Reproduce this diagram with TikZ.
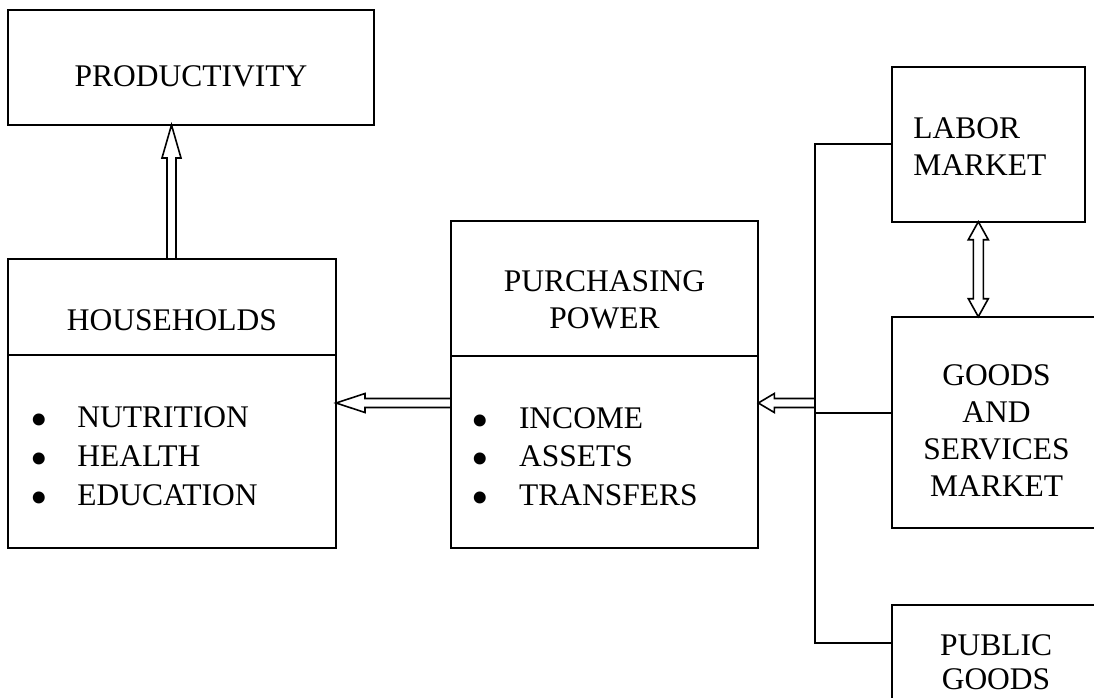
\documentclass[tikz,border=0pt]{standalone}
\usepackage{fontspec}
\setmainfont{Liberation Serif}
\usetikzlibrary{calc}
\newcommand\mybullet{\makebox[47.3pt][l]{\smash{\raisebox{-9pt}{\fontsize{50}{50}\selectfont •}}}}
\tikzset{
  box/.style={draw, line width=1.8pt, inner sep=0pt, outer sep=0pt, anchor=north west},
  txt/.style={inner sep=0pt, outer sep=0pt, font=\fontsize{31.5}{37.2}\selectfont},
  conn/.style={line width=1.8pt},
  hollow/.style n args={3}{line width=1.6pt, line join=miter, to path={
    ($(\tikztostart)!#2!90:(\tikztotarget)$)
    -- ($(\tikztotarget)!#1!(\tikztostart)!#2!90:(\tikztotarget)$)
    -- ($(\tikztotarget)!#1!(\tikztostart)!#3!90:(\tikztotarget)$)
    -- (\tikztotarget)
    -- ($(\tikztotarget)!#1!(\tikztostart)!#3!-90:(\tikztotarget)$)
    -- ($(\tikztotarget)!#1!(\tikztostart)!#2!-90:(\tikztotarget)$)
    -- ($(\tikztostart)!#2!-90:(\tikztotarget)$)
  }},
  hollowboth/.style n args={3}{line width=1.6pt, line join=miter, to path={
    (\tikztostart)
    -- ($(\tikztostart)!#1!(\tikztotarget)!#3!90:(\tikztotarget)$)
    -- ($(\tikztostart)!#1!(\tikztotarget)!#2!90:(\tikztotarget)$)
    -- ($(\tikztotarget)!#1!(\tikztostart)!#2!90:(\tikztotarget)$)
    -- ($(\tikztotarget)!#1!(\tikztostart)!#3!90:(\tikztotarget)$)
    -- (\tikztotarget)
    -- ($(\tikztotarget)!#1!(\tikztostart)!#3!-90:(\tikztotarget)$)
    -- ($(\tikztotarget)!#1!(\tikztostart)!#2!-90:(\tikztotarget)$)
    -- ($(\tikztostart)!#1!(\tikztotarget)!#2!-90:(\tikztotarget)$)
    -- ($(\tikztostart)!#1!(\tikztotarget)!#3!-90:(\tikztotarget)$)
    -- cycle
  }},
}
\begin{document}
\begin{tikzpicture}[x=1pt, y=-1pt]
\useasboundingbox (0,0) rectangle (1094,698);
\clip (0,0) rectangle (1094,698);

% boxes
\node[box, minimum width=366pt, minimum height=115pt] (prod) at (8,10) {};
\node[box, minimum width=328pt, minimum height=288.4pt] (hh) at (8,259.3) {};
\node[box, minimum width=307.6pt, minimum height=327.3pt] (pp) at (450.7,221) {};
\node[box, minimum width=193.3pt, minimum height=154.4pt] (lab) at (891.7,67.3) {};
\node[box, minimum width=240pt, minimum height=211.6pt] (goods) at (891.7,316.7) {};
\node[box, minimum width=240pt, minimum height=150pt] (pub) at (891.7,605) {};

% dividers
\draw[conn] (hh.west |- 0,355.3) -- (hh.east |- 0,355.3);
\draw[conn] (pp.west |- 0,355.7) -- (pp.east |- 0,355.7);

% texts
\node[txt, anchor=base] (prodT) at (191,87) {PRODUCTIVITY};
\node[txt, anchor=base] (hhT) at (172,330) {HOUSEHOLDS};
\node[txt, align=center] (ppT) at (604.5,300) {PURCHASING\\POWER};
\node[txt, align=left, anchor=west] (labT) at (913.3,146.4) {LABOR\\MARKET};
\node[txt, align=center] (goodsT) at (996.5,430.5) {GOODS\\AND\\SERVICES\\MARKET};
\node[txt, align=center, font=\fontsize{31.5}{34.3}\selectfont] (pubT) at (996,662.5) {PUBLIC\\GOODS};

\node[txt, anchor=base west] (hh1) at (30,427.7) {\mybullet NUTRITION};
\node[txt, anchor=base west] (hh2) at (30,466.7) {\mybullet HEALTH};
\node[txt, anchor=base west] (hh3) at (30,505) {\mybullet EDUCATION};
\node[txt, anchor=base west] (pp1) at (471.7,428.3) {\mybullet INCOME};
\node[txt, anchor=base west] (pp2) at (471.7,466.7) {\mybullet ASSETS};
\node[txt, anchor=base west] (pp3) at (471.7,505) {\mybullet TRANSFERS};

% bus connectors
\coordinate (busTop) at (815,144.3);
\coordinate (busMid) at (815,413.3);
\coordinate (busBot) at (815,642.7);
\draw[conn] (lab.west |- busTop) -- (busTop) -- (busBot) -- (pub.west |- busBot);
\draw[conn] (busMid) -- (goods.west |- busMid);

% hollow arrows
\coordinate (upS) at (171.5,0 |- hh.north);
\coordinate (upT) at (171.5,0 |- prod.south);
\draw[hollow={33pt}{4.5pt}{9.5pt}] (upS) to (upT);

\coordinate (leftS) at (pp.west |- 0,403);
\coordinate (leftT) at (hh.east |- 0,403);
\draw[hollow={29pt}{4.5pt}{9.5pt}] (leftS) to (leftT);

\coordinate (busS) at (busTop |- 0,403);
\coordinate (busT) at (pp.east |- 0,403);
\draw[hollow={16pt}{4.5pt}{9.5pt}] (busS) to (busT);

\coordinate (dblS) at (978.3,0 |- lab.south);
\coordinate (dblT) at (978.3,0 |- goods.north);
\draw[hollowboth={18pt}{5pt}{10pt}] (dblS) to (dblT);
\end{tikzpicture}
\end{document}
